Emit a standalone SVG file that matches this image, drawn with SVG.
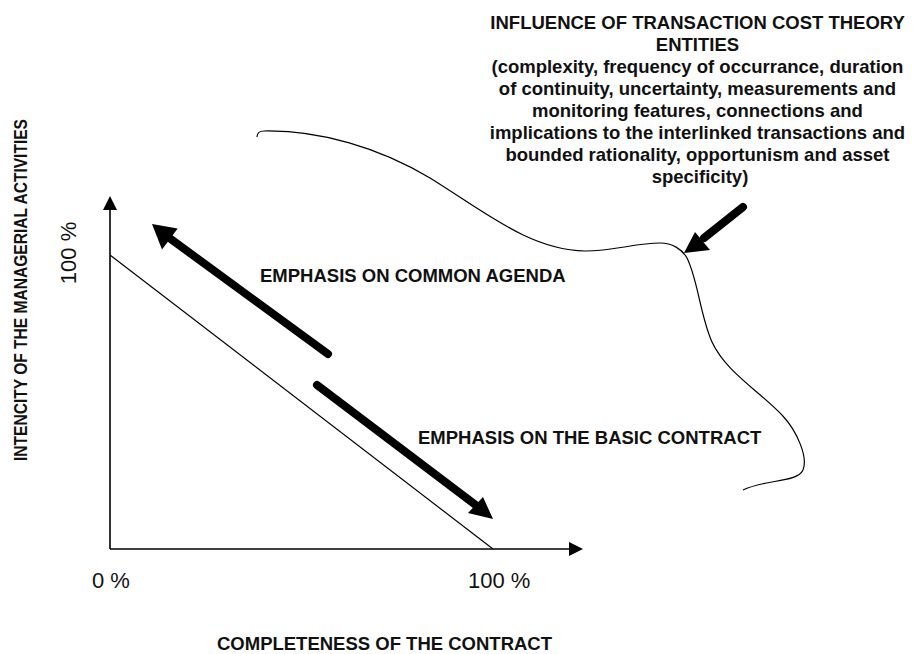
<svg xmlns="http://www.w3.org/2000/svg" width="918" height="654" viewBox="0 0 918 654">
  <style>
    .bold { font-family: "Liberation Sans", Arial, sans-serif; font-weight: bold; font-size: 18.5px; fill: #111; }
    .reg { font-family: "Liberation Sans", Arial, sans-serif; font-size: 22px; fill: #111; }
    .axis { stroke: #000; stroke-width: 1.6; fill: none; }
    .thin { stroke: #000; stroke-width: 1.2; fill: none; }
    .thick { stroke: #000; stroke-width: 8; stroke-linecap: round; fill: none; }
    .head { fill: #000; stroke: none; }
  </style>
  <rect width="918" height="654" fill="#fff"/>

  <!-- axes with arrowheads -->
  <g id="axes">
    <line class="axis" x1="110" y1="549" x2="110" y2="206"/>
    <polygon class="head" points="110,196 103,210 117,210"/>
    <line class="axis" x1="110" y1="549" x2="572" y2="549"/>
    <polygon class="head" points="583,549 569,542 569,556"/>
  </g>

  <!-- contract completeness line -->
  <g id="diagonal">
    <line class="thin" x1="110" y1="255" x2="493" y2="549"/>
  </g>

  <!-- boundary curve of transaction cost influence -->
  <g id="influence-curve">
    <path class="thin" stroke-width="1.5" d="M257,137 C257,133 259,131 264,131 C320,130 380,148 430,178 C485,212 530,250 585,251 C615,251 635,243 660,243 C672,243 682,249 687,258 C698,280 700,315 712,342 C726,372 758,390 782,415 C798,432 808,458 803,470 C797,483 765,479 743,490"/>
  </g>

  <!-- emphasis arrows -->
  <g id="connectors">
    <g id="arrow-agenda">
      <line class="thick" x1="328" y1="354" x2="168" y2="237"/>
      <polygon class="head" points="152,224 162,249.5 177.7,228.5"/>
    </g>
    <g id="arrow-contract">
      <line class="thick" x1="317" y1="385" x2="477" y2="506"/>
      <polygon class="head" points="493,519 468,513 483,497"/>
    </g>
    <g id="arrow-influence">
      <line class="thick" stroke-width="7" x1="743" y1="207" x2="704" y2="238"/>
      <polygon class="head" points="684,253 695,232 710,250"/>
    </g>
  </g>

  <!-- labels -->
  <g id="title">
    <text class="bold" text-anchor="middle">
      <tspan x="700" y="29">INFLUENCE OF TRANSACTION COST THEORY</tspan>
      <tspan x="700" y="51">ENTITIES</tspan>
      <tspan x="700" y="73">(complexity, frequency of occurrance, duration</tspan>
      <tspan x="700" y="95">of continuity, uncertainty, measurements and</tspan>
      <tspan x="700" y="117">monitoring features, connections and</tspan>
      <tspan x="700" y="139">implications to the interlinked transactions and</tspan>
      <tspan x="700" y="161">bounded rationality, opportunism and asset</tspan>
      <tspan x="700" y="183">specificity)</tspan>
    </text>
  </g>
  <g id="label-agenda">
    <text class="bold" x="260" y="282">EMPHASIS ON COMMON AGENDA</text>
  </g>
  <g id="label-contract">
    <text class="bold" x="418" y="444">EMPHASIS ON THE BASIC CONTRACT</text>
  </g>
  <g id="label-y">
    <text class="bold" text-anchor="middle" transform="translate(27,290) rotate(-90)" textLength="342" lengthAdjust="spacingAndGlyphs">INTENCITY OF THE MANAGERIAL ACTIVITIES</text>
    <text class="reg" text-anchor="middle" transform="translate(76,253) rotate(-90)">100 %</text>
  </g>
  <g id="label-x">
    <text class="reg" x="92" y="588">0 %</text>
    <text class="reg" x="468" y="588">100 %</text>
    <text class="bold" x="384.5" y="650" text-anchor="middle">COMPLETENESS OF THE CONTRACT</text>
  </g>
</svg>
